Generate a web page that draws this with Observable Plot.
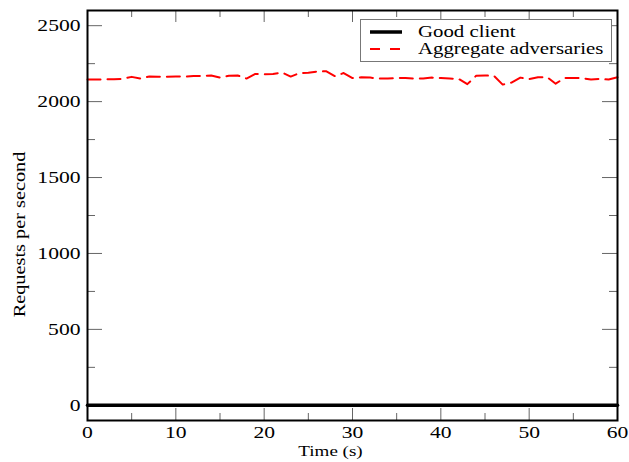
<!DOCTYPE html>
<html>
<head>
<meta charset="utf-8">
<script src="https://cdn.jsdelivr.net/npm/d3@7"></script>
<script src="https://cdn.jsdelivr.net/npm/@observablehq/plot@0.6"></script>
<style>
  body { margin: 0; background: #fff; }
  #wrap { position: relative; width: 629px; height: 462px; }
  svg text { font-family: "Liberation Serif", "Times New Roman", serif !important; font-weight: normal; }
  #legend {
    position: absolute; left: 360px; top: 19px; width: 252px; height: 43px;
    border: 1px solid #777; background: #fff; box-sizing: border-box;
    font-family: "Liberation Serif", serif; font-size: 16px; color: #000;
  }
  .row { position: absolute; left: 0; height: 15px; display: flex; align-items: center; }
  .row svg { margin-left: 9px; margin-right: 16px; }
  .row span { display: inline-block; transform: scaleX(1.3); transform-origin: left center; white-space: nowrap; line-height: 15px; }
</style>
</head>
<body>
<div id="wrap">
  <div id="legend">
    <div class="row" style="top:4px"><svg width="32" height="10"><line x1="0" x2="32" y1="5" y2="5" stroke="#000" stroke-width="3.5"/></svg><span>Good client</span></div>
    <div class="row" style="top:21px"><svg width="32" height="10"><line x1="0" x2="32" y1="5" y2="5" stroke="#ff0000" stroke-width="2" stroke-dasharray="10,10"/></svg><span>Aggregate adversaries</span></div>
  </div>
</div>
<script>
// ---- data ----
const advTime = [0,1,2,3,4,5,6,7,8,9,10,11,12,13,14,15,16,17,18,19,20,21,22,23,24,25,26,27,28,29,30,31,32,33,34,35,36,37,38,39,40,41,42,43,44,45,46,47,48,49,50,51,52,53,54,55,56,57,58,59,60];
const advRate = [2145,2145,2148,2148,2150,2163,2152,2165,2163,2163,2165,2165,2168,2170,2172,2158,2170,2172,2152,2182,2180,2182,2192,2165,2188,2190,2198,2200,2168,2188,2155,2160,2158,2152,2152,2155,2155,2152,2152,2158,2155,2152,2150,2115,2170,2172,2170,2112,2125,2158,2148,2160,2162,2118,2155,2155,2155,2145,2150,2145,2160];
const goodTime = [0, 60];
const goodRate = [0, 0];
const yMajor = [0, 500, 1000, 1500, 2000, 2500];
const yMinor = [250, 750, 1250, 1750, 2250];
const xMajor = [0, 10, 20, 30, 40, 50, 60];
const xMinor = [5, 15, 25, 35, 45, 55];
const xLabel = "Time (s)";
const yLabel = "Requests per second";

const advData = advTime.map((t, i) => ({t, v: advRate[i]}));
const goodData = goodTime.map((t, i) => ({t, v: goodRate[i]}));

const W = 629, H = 462, mL = 87, mR = 12, mT = 10, mB = 42;
const fw = W - mL - mR, fh = H - mT - mB;
const tickColor = "#666";
const fmt = d => String(d);

const plot = Plot.plot({
  width: W, height: H,
  marginLeft: mL, marginRight: mR, marginTop: mT, marginBottom: mB,
  x: {domain: [0, 60]},
  y: {domain: [-100, 2600]},
  style: {fontFamily: "Liberation Serif", fontSize: "17px", color: "#000", background: "#fff"},
  marks: [
    Plot.axisY(yMajor, {tickSize: 0, tickPadding: 7, label: null, fontSize: 17, tickFormat: fmt}),
    Plot.axisX(xMajor, {tickSize: 0, tickPadding: 5, label: null, fontSize: 17, tickFormat: fmt}),
    // inward ticks left / right
    Plot.tickY(yMajor, {y: d => d, insetRight: fw - 15, stroke: tickColor}),
    Plot.tickY(yMinor, {y: d => d, insetRight: fw - 8, stroke: tickColor}),
    Plot.tickY(yMajor, {y: d => d, insetLeft: fw - 15, stroke: tickColor}),
    Plot.tickY(yMinor, {y: d => d, insetLeft: fw - 8, stroke: tickColor}),
    // inward ticks bottom / top
    Plot.tickX(xMajor, {x: d => d, insetTop: fh - 12, stroke: tickColor}),
    Plot.tickX(xMinor, {x: d => d, insetTop: fh - 7, stroke: tickColor}),
    Plot.tickX(xMajor, {x: d => d, insetBottom: fh - 12, stroke: tickColor}),
    Plot.tickX(xMinor, {x: d => d, insetBottom: fh - 7, stroke: tickColor}),
    Plot.line(advData, {x: "t", y: "v", stroke: "#ff0000", strokeWidth: 2, strokeDasharray: "13,7"}),
    Plot.line(goodData, {x: "t", y: "v", stroke: "#000", strokeWidth: 3.5}),
    Plot.frame({stroke: "#000", strokeWidth: 2}),
    Plot.text([yLabel], {frameAnchor: "left", textAnchor: "middle", lineAnchor: "middle", rotate: -90, dx: -68, dy: 19, fontSize: 16}),
    Plot.text([xLabel], {frameAnchor: "bottom", textAnchor: "middle", lineAnchor: "middle", dx: -22, dy: 31, fontSize: 15})
  ]
});

const wrap = document.getElementById("wrap");
wrap.insertBefore(plot, wrap.firstChild);

// widen glyphs along the text direction to match the reference's serif text
plot.querySelectorAll("text").forEach(t => {
  const tr = t.getAttribute("transform");
  if (tr && /translate/.test(tr)) {
    t.setAttribute("transform", tr + " scale(1.27,1)");
  } else {
    const L = t.getComputedTextLength();
    if (L > 0) {
      t.setAttribute("textLength", (L * 1.27).toFixed(1));
      t.setAttribute("lengthAdjust", "spacingAndGlyphs");
    }
  }
});
</script>
</body>
</html>
